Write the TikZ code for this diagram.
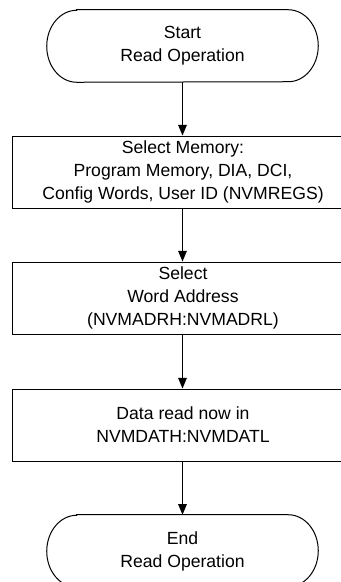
\documentclass[tikz,border=0pt]{standalone}
\usepackage{fontspec}
\setmainfont{Liberation Sans}
\usetikzlibrary{arrows.meta}

\tikzset{
  flowtext/.style={font=\fontsize{13.2}{17.25}\selectfont, align=center, inner sep=0pt},
  procbox/.style={flowtext, draw, line width=0.75pt, minimum width=256.5pt, minimum height=54pt},
  termbox/.style={flowtext, minimum width=158.25pt, minimum height=54pt},
  flowarrow/.style={line width=0.75pt, -{Triangle[length=8pt,width=6.5pt]}}
}

\begin{document}
\begin{tikzpicture}[x=0.75pt,y=-0.75pt]
\useasboundingbox (0,0) rectangle (341,582);

%Terminators
\node[termbox] (start) at (182.5,46) {Start\\Read Operation};
\node[termbox] (end) at (182.5,551) {End\\Read Operation};
\foreach \t in {start,end}
  \draw[line width=0.75pt] (\t.north west) -- (\t.north east)
    arc[start angle=90, end angle=-90, x radius=22.5pt, y radius=27pt]
    -- (\t.south west)
    arc[start angle=270, end angle=90, x radius=22.5pt, y radius=27pt] -- cycle;

%Process boxes
\node[procbox] (memory) at (183,172) {Select Memory:\\Program Memory, DIA, DCI,\\Config Words, User ID (NVMREGS)};
\node[procbox] (address) at (183,298) {Select\\Word Address\\(NVMADRH:NVMADRL)};
\node[procbox] (data) at (183,425) {Data read now in\\NVMDATH:NVMDATL};

%Arrows
\draw[flowarrow] (start.south) -- (memory.north -| start.south);
\draw[flowarrow] (memory.south -| start.south) -- (address.north -| start.south);
\draw[flowarrow] (address.south -| start.south) -- (data.north -| start.south);
\draw[flowarrow] (data.south -| start.south) -- (end.north);

\end{tikzpicture}
\end{document}
